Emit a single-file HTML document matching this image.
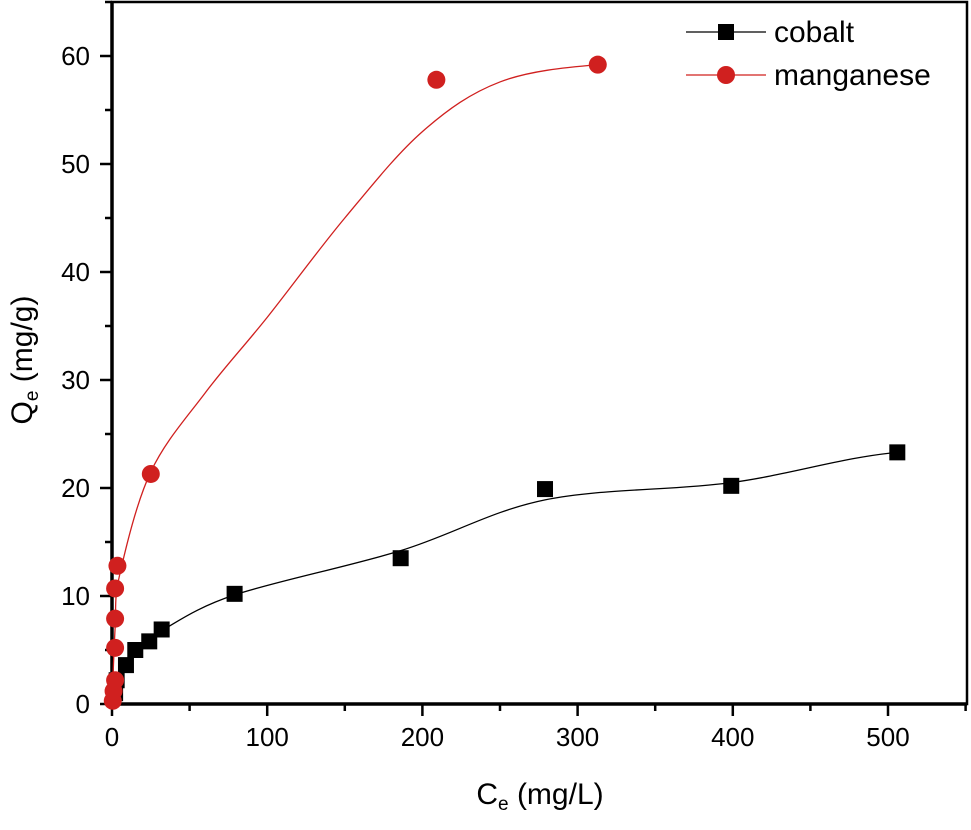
<!DOCTYPE html>
<html><head><meta charset="utf-8"><style>
body{margin:0;background:#fff}
svg text{font-family:"Liberation Sans",Arial,sans-serif}
</style></head><body>
<svg id="chart" width="971" height="825" xmlns="http://www.w3.org/2000/svg"></svg>
<script>
const xTicks=[0,100,200,300,400,500];
const yTicks=[0,10,20,30,40,50,60];
const cobaltX=[2,3,9,15,24,32,79,186,279,399,506];
const cobaltY=[1,2.2,3.6,5,5.8,6.9,10.2,13.5,19.9,20.2,23.3];
const mnX=[0.5,1,2,2,2,2,3.5,25,209,313];
const mnY=[0.3,1.2,2.2,5.2,7.9,10.7,12.8,21.3,57.8,59.2];
const cobaltFitX=[0,3,9,15,24,32,79,186,279,399,506];
const cobaltFitY=[0,2.2,3.6,4.9,5.9,6.8,10.1,14.2,18.9,20.5,23.3];
const mnFitX=[0,2,5,25,60,100,150,200,250,313];
const mnFitY=[0,7,12,21.5,28.8,35.8,45,53,57.6,59.2];

const svg=document.getElementById('chart');
const NS='http://www.w3.org/2000/svg';
const L=112,R=967,T=2,B=704;
const sx=v=>L+v*(888-112)/500;
const sy=v=>B-v*(704-56)/60;
function mk(tag,attrs,parent){const e=document.createElementNS(NS,tag);for(const k in attrs)e.setAttribute(k,attrs[k]);(parent||svg).appendChild(e);return e;}

const frame=mk('rect',{x:L,y:T,width:R-L,height:B-T,fill:'none',stroke:'#000','stroke-width':2.5});


const ax=mk('path',{d:`M${L},${T}V${B}H${R}`,fill:'none',stroke:'#000','stroke-width':3.5});



for(let v=0;v<=550;v+=50){
  const major=v%100===0;
  const t=mk('line',{x1:sx(v),x2:sx(v),y1:B,y2:B+(major?12:7),stroke:'#000','stroke-width':2.5});
  
  
}
xTicks.forEach(v=>{
  const t=mk('text',{x:sx(v),y:B+42,'font-size':26,'text-anchor':'middle'});t.textContent=v;
  
  
});
for(let v=0;v<=65;v+=5){
  const major=v%10===0;
  const t=mk('line',{x1:L,x2:L-(major?12:7),y1:sy(v),y2:sy(v),stroke:'#000','stroke-width':2.5});
  
  
}
yTicks.forEach(v=>{
  const t=mk('text',{x:L-22,y:sy(v)+9,'font-size':26,'text-anchor':'end'});t.textContent=v;
  
  
});
const xt=mk('text',{x:540,y:804,'font-size':30,'text-anchor':'middle'});
xt.innerHTML='C<tspan font-size="19" dy="6">e</tspan><tspan dy="-6"> (mg/L)</tspan>';


const yt=mk('text',{x:0,y:0,'font-size':30,'text-anchor':'middle',transform:'translate(32,360) rotate(-90)'});
yt.innerHTML='Q<tspan font-size="19" dy="6">e</tspan><tspan dy="-6"> (mg/g)</tspan>';



function spline(xs,ys){
  const p=xs.map((x,i)=>[sx(x),sy(ys[i])]);
  let d='M'+p[0][0]+','+p[0][1];
  for(let i=0;i<p.length-1;i++){
    const p0=p[i-1]||p[i],p1=p[i],p2=p[i+1],p3=p[i+2]||[p2[0]+(p2[0]-p1[0]),p2[1]];
    const c1=[p1[0]+(p2[0]-p0[0])/6,p1[1]+(p2[1]-p0[1])/6];
    const c2=[p2[0]-(p3[0]-p1[0])/6,p2[1]-(p3[1]-p1[1])/6];
    d+=`C${c1[0]},${c1[1]} ${c2[0]},${c2[1]} ${p2[0]},${p2[1]}`;
  }
  return d;
}
const cl=mk('path',{d:spline(cobaltFitX,cobaltFitY),fill:'none',stroke:'#000','stroke-width':1.3});


const ml=mk('path',{d:spline(mnFitX,mnFitY),fill:'none',stroke:'#d0201f','stroke-width':1.3});



cobaltX.forEach((x,i)=>{
  const r=mk('rect',{x:sx(x)-8,y:sy(cobaltY[i])-8,width:16,height:16,fill:'#000'});
  
  
});
mnX.forEach((x,i)=>{
  const c=mk('circle',{cx:sx(x),cy:sy(mnY[i]),r:9,fill:'#d0201f'});
  
  
});

const lg=mk('g',{});


mk('line',{x1:686,x2:766,y1:32,y2:32,stroke:'#000','stroke-width':1.3},lg);
mk('rect',{x:718,y:24,width:16,height:16,fill:'#000'},lg);
const t1=mk('text',{x:774,y:42,'font-size':30},lg);t1.textContent='cobalt';


mk('line',{x1:686,x2:766,y1:75,y2:75,stroke:'#d0201f','stroke-width':1.3},lg);
mk('circle',{cx:726,cy:75,r:9,fill:'#d0201f'},lg);
const t2=mk('text',{x:774,y:85,'font-size':30},lg);t2.textContent='manganese';


</script>
</body></html>
